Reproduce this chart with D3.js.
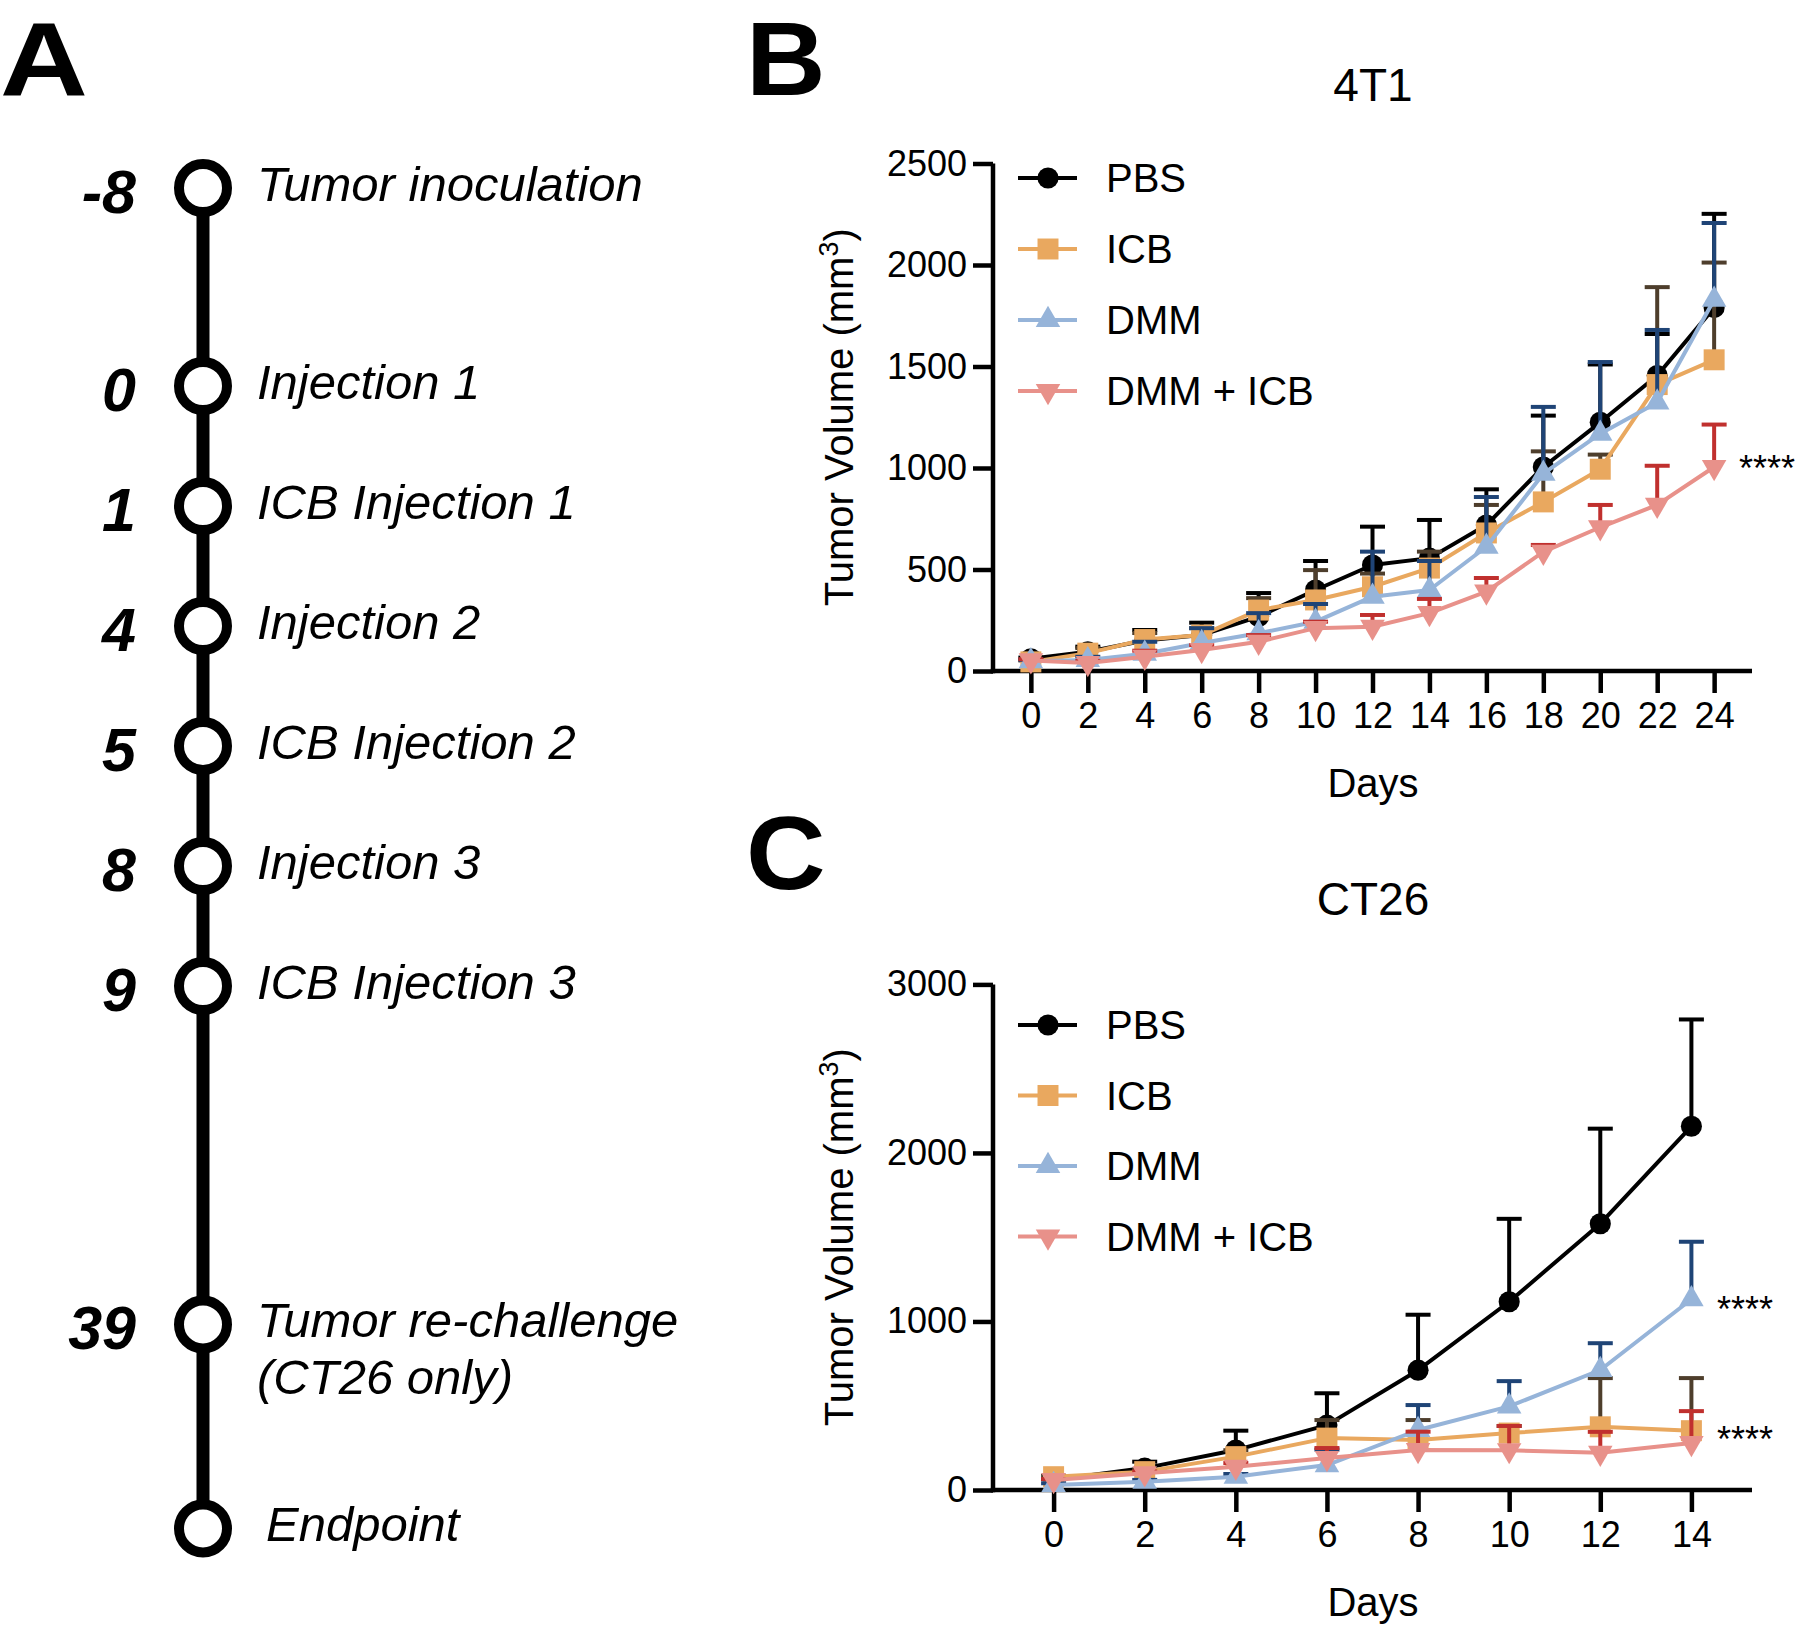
<!DOCTYPE html>
<html><head><meta charset="utf-8">
<script src="https://cdn.jsdelivr.net/npm/d3@7"></script>
<style>body{margin:0;background:#fff}svg{display:block}</style>
</head><body>
<svg id="fig" width="1800" height="1625"></svg>
<script>
// ---------------- DATA ----------------
const timelineDays = ["-8", "0", "1", "4", "5", "8", "9", "39", ""];
const timelineEvents = [
  ["Tumor inoculation"], ["Injection 1"], ["ICB Injection 1"], ["Injection 2"],
  ["ICB Injection 2"], ["Injection 3"], ["ICB Injection 3"],
  ["Tumor re-challenge", "(CT26 only)"], ["Endpoint"]
];
const groups = ["PBS", "ICB", "DMM", "DMM + ICB"];

// 4T1
const days4T1 = [0, 2, 4, 6, 8, 10, 12, 14, 16, 18, 20, 22, 24];
const ticks4T1 = [0, 2, 4, 6, 8, 10, 12, 14, 16, 18, 20, 22, 24];
const yTicks4T1 = [0, 500, 1000, 1500, 2000, 2500];
const pbs4T1      = [60, 95, 150, 177, 268, 399, 522, 556, 719, 1005, 1225, 1456, 1790];
const pbs4T1Err   = [66, 120, 202, 238, 384, 542, 711, 744, 895, 1258, 1510, 1660, 2252];
const icb4T1      = [45, 88, 155, 177, 300, 350, 415, 507, 680, 833, 994, 1411, 1533];
const icb4T1Err   = [52, 113, 187, 211, 359, 497, 480, 588, 818, 1082, 1066, 1891, 2012];
const dmm4T1      = [48, 54, 85, 138, 186, 243, 366, 399, 612, 972, 1169, 1323, 1829];
const dmm4T1Err   = [55, 70, 144, 211, 285, 330, 588, 542, 857, 1301, 1522, 1680, 2207];
const combo4T1    = [52, 39, 70, 103, 144, 211, 218, 285, 391, 587, 708, 818, 1005];
const combo4T1Err = [58, 50, 100, 128, 177, 243, 276, 355, 458, 621, 818, 1011, 1214];

// CT26
const daysCT26 = [0, 2, 4, 6, 8, 10, 12, 14];
const ticksCT26 = [0, 2, 4, 6, 8, 10, 12, 14];
const yTicksCT26 = [0, 1000, 2000, 3000];
const pbsCT26      = [59, 130, 237, 385, 711, 1117, 1580, 2158];
const pbsCT26Err   = [65, 168, 352, 574, 1040, 1609, 2144, 2792];
const icbCT26      = [79, 109, 198, 308, 296, 338, 375, 352];
const icbCT26Err   = [85, 120, 236, 415, 415, 380, 664, 664];
const dmmCT26      = [30, 49, 79, 148, 356, 496, 712, 1132];
const dmmCT26Err   = [40, 60, 95, 240, 504, 646, 871, 1473];
const comboCT26    = [59, 99, 138, 190, 237, 236, 221, 279];
const comboCT26Err = [65, 110, 160, 249, 346, 380, 345, 468];

// ---------------- STYLE ----------------
const FONT = "'Liberation Sans', Arial, Helvetica, sans-serif";
const lineColors = ["#000000", "#E9A85F", "#96B4D9", "#E8918A"];
const errColors  = ["#000000", "#4E3E2C", "#1F4476", "#C0302E"];
const symbols    = [d3.symbolCircle, d3.symbolSquare, d3.symbolTriangle, d3.symbolTriangle];
const symSizes   = [350, 440, 260, 260];
const symRot     = [0, 0, 0, 180];

const svg = d3.select("#fig");

function panelLetter(g, txt, x, baseline, sx) {
  g.append("text").attr("transform", `translate(${x},${baseline}) scale(${sx},1)`)
    .attr("font-family", FONT).attr("font-weight", "bold").attr("font-size", 104).text(txt);
}

// ---------------- PANEL A: timeline ----------------
const timelineSlots = [0, 1.65, 2.65, 3.65, 4.65, 5.65, 6.65, 9.47, 11.17];
const tY = d3.scaleLinear().domain([0, 1]).range([188, 308]);
const gA = svg.append("g");
panelLetter(gA, "A", 0, 94.5, 1.17);
gA.append("line").attr("x1", 203).attr("x2", 203)
  .attr("y1", tY(timelineSlots[0])).attr("y2", tY(timelineSlots[timelineSlots.length - 1]))
  .attr("stroke", "#000").attr("stroke-width", 13);
timelineDays.forEach((d, i) => {
  const cy = tY(timelineSlots[i]);
  gA.append("circle").attr("cx", 203).attr("cy", cy).attr("r", 24)
    .attr("fill", "#fff").attr("stroke", "#000").attr("stroke-width", 10);
  gA.append("text").attr("x", 136).attr("y", cy + 25).attr("text-anchor", "end")
    .attr("font-family", FONT).attr("font-weight", "bold").attr("font-style", "italic")
    .attr("font-size", 61).text(d);
  const lines = timelineEvents[i];
  const isLast = i === timelineDays.length - 1;
  lines.forEach((t, k) => {
    gA.append("text").attr("x", isLast ? 266 : 257).attr("y", cy + 13 + k * 57)
      .attr("font-family", FONT).attr("font-style", "italic").attr("font-size", 49).text(t);
  });
});

// ---------------- Growth panels ----------------
function panel(cfg) {
  const g = svg.append("g");
  const x = d3.scaleLinear().domain(cfg.xDomain).range([993, 1752]);
  const y = d3.scaleLinear().domain([0, cfg.yMax]).range([cfg.bottom, cfg.top]);

  panelLetter(g, cfg.letter, 746, cfg.letterY, 1.06);
  g.append("text").attr("x", 1373).attr("y", cfg.titleY).attr("text-anchor", "middle")
    .attr("font-family", FONT).attr("font-size", 46).text(cfg.title);

  // axes
  const ya = g.append("g").attr("transform", `translate(993,0)`)
    .call(d3.axisLeft(y).tickValues(cfg.yTicks).tickSize(20).tickSizeOuter(0).tickPadding(6).tickFormat(d3.format("d")));
  const xa = g.append("g").attr("transform", `translate(0,${cfg.bottom})`)
    .call(d3.axisBottom(x).tickValues(cfg.xTicks).tickSize(22).tickSizeOuter(0).tickPadding(9));
  [ya, xa].forEach(a => {
    a.select(".domain").attr("stroke-width", 4.5).attr("stroke", "#000");
    a.selectAll(".tick line").attr("stroke-width", 4.5).attr("stroke", "#000");
    a.selectAll(".tick text").attr("font-family", FONT).attr("font-size", 36).attr("fill", "#000");
  });
  ya.select(".domain").attr("d", `M0,${cfg.top}V${cfg.bottom + 2.25}`);
  xa.select(".domain").attr("d", `M${993 - 2.25},0H1752`);

  g.append("text").attr("x", 1373).attr("y", cfg.bottom + 126).attr("text-anchor", "middle")
    .attr("font-family", FONT).attr("font-size", 40).text("Days");
  const yt = g.append("text")
    .attr("transform", `translate(853,${(cfg.top + cfg.bottom) / 2}) rotate(-90)`)
    .attr("text-anchor", "middle").attr("font-family", FONT).attr("font-size", 40);
  yt.append("tspan").text("Tumor Volume (mm");
  yt.append("tspan").attr("font-size", 27).attr("dy", -15).text("3");
  yt.append("tspan").attr("dy", 15).text(")");

  // series
  cfg.series.forEach((s, i) => {
    const pts = cfg.days.map((d, j) => ({ d, v: s.mean[j], e: s.err[j] }));
    const eg = g.append("g").attr("stroke", errColors[i]).attr("stroke-width", 4);
    pts.forEach(p => {
      eg.append("line").attr("x1", x(p.d)).attr("x2", x(p.d)).attr("y1", y(p.v)).attr("y2", y(p.e));
      eg.append("line").attr("x1", x(p.d) - 12.5).attr("x2", x(p.d) + 12.5).attr("y1", y(p.e)).attr("y2", y(p.e));
    });
    g.append("path").datum(pts).attr("fill", "none").attr("stroke", lineColors[i])
      .attr("stroke-width", 4).attr("stroke-linejoin", "round")
      .attr("d", d3.line().x(p => x(p.d)).y(p => y(p.v)));
    g.selectAll(null).data(pts).enter().append("path")
      .attr("transform", p => `translate(${x(p.d)},${y(p.v)}) rotate(${symRot[i]})`)
      .attr("d", d3.symbol().type(symbols[i]).size(symSizes[i]))
      .attr("fill", lineColors[i]);
  });

  // legend
  groups.forEach((name, i) => {
    const ly = cfg.legendY + i * cfg.legendStep;
    g.append("line").attr("x1", 1018).attr("x2", 1077).attr("y1", ly).attr("y2", ly)
      .attr("stroke", lineColors[i]).attr("stroke-width", 4);
    g.append("path").attr("transform", `translate(1048,${ly}) rotate(${symRot[i]})`)
      .attr("d", d3.symbol().type(symbols[i]).size(symSizes[i])).attr("fill", lineColors[i]);
    g.append("text").attr("x", 1106).attr("y", ly + 14).attr("font-family", FONT)
      .attr("font-size", 40).text(name);
  });

  cfg.stars.forEach(st => {
    g.append("text").attr("x", st.x).attr("y", y(st.v) + 21).attr("font-family", FONT)
      .attr("font-size", 36).text("****");
  });
}

panel({
  letter: "B", letterY: 94.5, title: "4T1", titleY: 101,
  top: 163.5, bottom: 671, yMax: 2500, yTicks: yTicks4T1,
  xDomain: [-1.33, 25.33], xTicks: ticks4T1, days: days4T1,
  legendY: 178, legendStep: 71,
  series: [
    { mean: pbs4T1, err: pbs4T1Err }, { mean: icb4T1, err: icb4T1Err },
    { mean: dmm4T1, err: dmm4T1Err }, { mean: combo4T1, err: combo4T1Err }
  ],
  stars: [{ x: 1739, v: 1040 }]
});

panel({
  letter: "C", letterY: 889, title: "CT26", titleY: 915,
  top: 984.4, bottom: 1490, yMax: 3000, yTicks: yTicksCT26,
  xDomain: [-1.33, 15.33], xTicks: ticksCT26, days: daysCT26,
  legendY: 1025, legendStep: 70.5,
  series: [
    { mean: pbsCT26, err: pbsCT26Err }, { mean: icbCT26, err: icbCT26Err },
    { mean: dmmCT26, err: dmmCT26Err }, { mean: comboCT26, err: comboCT26Err }
  ],
  stars: [{ x: 1717, v: 1120 }, { x: 1717, v: 352 }]
});
</script>
</body></html>
